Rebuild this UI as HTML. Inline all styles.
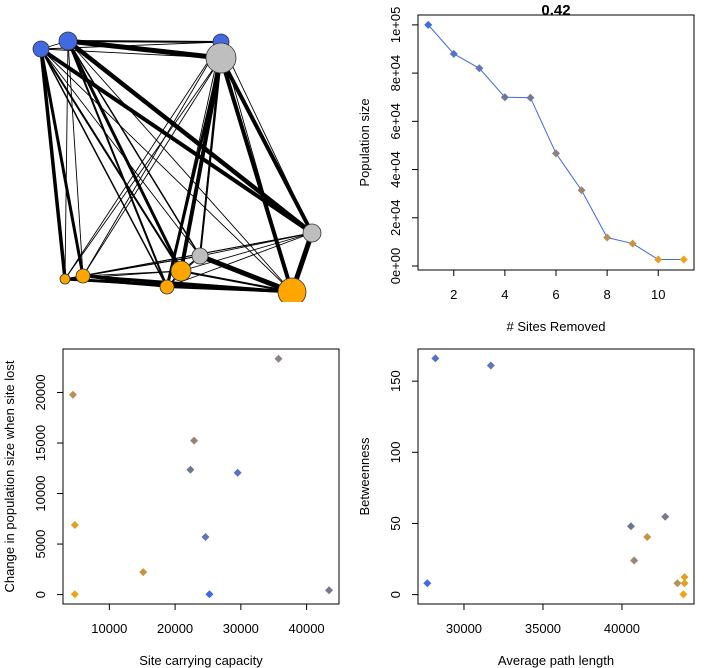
<!DOCTYPE html>
<html><head><meta charset="utf-8"><style>
body{margin:0;background:#fff;}
svg{display:block;font-family:"Liberation Sans",Arial,sans-serif;}
</style></head><body>
<svg id="root" width="710" height="668" viewBox="0 0 710 668">
<defs><clipPath id="netclip"><rect x="0" y="0" width="355" height="302"/></clipPath></defs>
<g id="net" clip-path="url(#netclip)"></g>
<g id="p1"></g>
<g id="p2"></g>
<g id="p3"></g>
</svg>
<script>
// ---- data ----
const sitesRemoved = [1,2,3,4,5,6,7,8,9,10,11];
const popSize = [100000,88000,82000,70000,69800,46700,31400,11800,9300,2700,2700];
const popColors = ["#4169E1","#5470C8","#5F76B8","#6C7796","#787892","#8C8280","#9A8470","#B6905A","#C8953E","#E39F22","#F0A319"];
const popTicksX = [2,4,6,8,10];
const popTicksY = [0,20000,40000,60000,80000,100000];
const popTickLabelsY = ["0e+00","2e+04","4e+04","6e+04","8e+04","1e+05"];

const capX = [4460,4750,4750,15150,22890,22330,24620,25230,29510,35730,43420];
const capY = [19770,6890,30,2220,15230,12350,5700,30,12050,23340,430];
const capColors = ["#B8905A","#E39F22","#F0A319","#C8953E","#9A8470","#6C7796","#5F76B8","#4169E1","#5470C8","#8C8280","#787892"];
const capTicksX = [10000,20000,30000,40000];
const capTicksY = [0,5000,10000,15000,20000];

const pathX = [27680,28190,31700,40570,40770,41600,42740,43510,43960,43960,43890];
const betw = [8,166,161,48,24,40.5,54.7,8,12.3,8,0.2];
const betwColors = ["#4169E1","#5470C8","#5F76B8","#6C7796","#9A8470","#C8953E","#787892","#B6905A","#E39F22","#E39F22","#F0A319"];
const pathTicksX = [30000,35000,40000];
const betwTicksY = [0,50,100,150];

const nodeX = [41,68,221,221,312,200,181,83,65,167,292];
const nodeY = [49,41,42,58,233,256,271,276,279,287,292];
const nodeR = [8,9,8,15,9,8,10,7,5,7,14];
const nodeColors = ["#4169E1","#4169E1","#4169E1","#BEBEBE","#BEBEBE","#BEBEBE","#FFA500","#FFA500","#FFA500","#FFA500","#FFA500"];
const thickEdges = [[1,3,5],[1,2,2],[0,4,4],[1,4,4.5],[3,4,4],[3,10,4],[3,6,4],[3,9,3],[3,5,2],[5,10,5],[0,8,3.5],[0,7,3],[7,10,3],[8,10,3],[7,4,2],[6,4,2],[4,10,5],[1,6,3],[1,9,2],[0,6,2],[7,6,2],[8,6,2],[7,9,2],[9,10,2],[6,10,2],[0,9,1.5],[1,5,1.5]];

const NS="http://www.w3.org/2000/svg";
function mk(parent,tag,attrs,text){const e=document.createElementNS(NS,tag);for(const k in attrs)e.setAttribute(k,attrs[k]);if(text!==undefined)e.textContent=text;parent.appendChild(e);return e;}

// ---- network ----
const net=document.getElementById('net');
const W={};thickEdges.forEach(t=>{W[t[0]+'-'+t[1]]=t[2];});
for(let i=0;i<nodeX.length;i++)for(let j=i+1;j<nodeX.length;j++){
  const w=W[i+'-'+j]||0.9;
  const e=mk(net,'line',{x1:nodeX[i],y1:nodeY[i],x2:nodeX[j],y2:nodeY[j],stroke:'#000','stroke-width':w});
  
  
}
for(let i=0;i<nodeX.length;i++){
  const c=mk(net,'circle',{cx:nodeX[i],cy:nodeY[i],r:nodeR[i],fill:nodeColors[i],stroke:'#333','stroke-width':0.8});
  
  
}

// ---- generic panel ----
function panel(g,box,xd,yd,xt,xtl,yt,ytl,xlab,ylab){
  const sx=v=>box.x0+(v-xd[0])/(xd[1]-xd[0])*(box.x1-box.x0);
  const sy=v=>box.y1-(v-yd[0])/(yd[1]-yd[0])*(box.y1-box.y0);
  const r=mk(g,'rect',{x:box.x0,y:box.y0,width:box.x1-box.x0,height:box.y1-box.y0,fill:'none',stroke:'#000','stroke-width':1});
  
  
  xt.forEach((v,i)=>{const x=sx(v);
    mk(g,'line',{x1:x,y1:box.y1,x2:x,y2:box.y1+6,stroke:'#000'});
    const t=mk(g,'text',{x:x,y:box.y1+29,'font-size':13,'text-anchor':'middle'},xtl[i]);
    
    });
  yt.forEach((v,i)=>{const y=sy(v);
    mk(g,'line',{x1:box.x0-6,y1:y,x2:box.x0,y2:y,stroke:'#000'});
    const t=mk(g,'text',{x:box.x0-18,y:y,'font-size':13,'text-anchor':'middle',transform:`rotate(-90 ${box.x0-18} ${y})`},ytl[i]);
    
    });
  const xl=mk(g,'text',{x:(box.x0+box.x1)/2,y:box.y1+61,'font-size':13,'text-anchor':'middle'},xlab);
  
  
  const yx=box.x0-49,yy=(box.y0+box.y1)/2;
  const yl=mk(g,'text',{x:yx,y:yy,'font-size':13,'text-anchor':'middle',transform:`rotate(-90 ${yx} ${yy})`},ylab);
  
  
  return {sx,sy};
}
function diamond(g,x,y,c){
  const p=mk(g,'path',{d:`M${x} ${y-4}L${x+4} ${y}L${x} ${y+4}L${x-4} ${y}Z`,fill:c});
  
  
}

// panel 1
const g1=document.getElementById('p1');
const a1=panel(g1,{x0:418,x1:694,y0:15,y1:270},[0.6,11.4],[-1660,104100],popTicksX,popTicksX.map(String),popTicksY,popTickLabelsY,'# Sites Removed','Population size');
const ti=mk(g1,'text',{x:556,y:15,'font-size':15,'font-weight':'bold','text-anchor':'middle'},'0.42');


const pl=mk(g1,'polyline',{points:sitesRemoved.map((s,i)=>a1.sx(s)+','+a1.sy(popSize[i])).join(' '),fill:'none',stroke:'#4169E1','stroke-width':1});


sitesRemoved.forEach((s,i)=>diamond(g1,a1.sx(s),a1.sy(popSize[i]),popColors[i]));

// panel 2
const g2=document.getElementById('p2');
const a2=panel(g2,{x0:63,x1:339,y0:349,y1:604},[2950,44930],[-930,24300],capTicksX,capTicksX.map(String),capTicksY,capTicksY.map(String),'Site carrying capacity','Change in population size when site lost');
capX.forEach((v,i)=>diamond(g2,a2.sx(v),a2.sy(capY[i]),capColors[i]));

// panel 3
const g3=document.getElementById('p3');
const a3=panel(g3,{x0:418,x1:694,y0:349,y1:604},[27090,44560],[-6.6,172.6],pathTicksX,pathTicksX.map(String),betwTicksY,betwTicksY.map(String),'Average path length','Betweenness');
pathX.forEach((v,i)=>diamond(g3,a3.sx(v),a3.sy(betw[i]),betwColors[i]));
</script>
</body></html>
